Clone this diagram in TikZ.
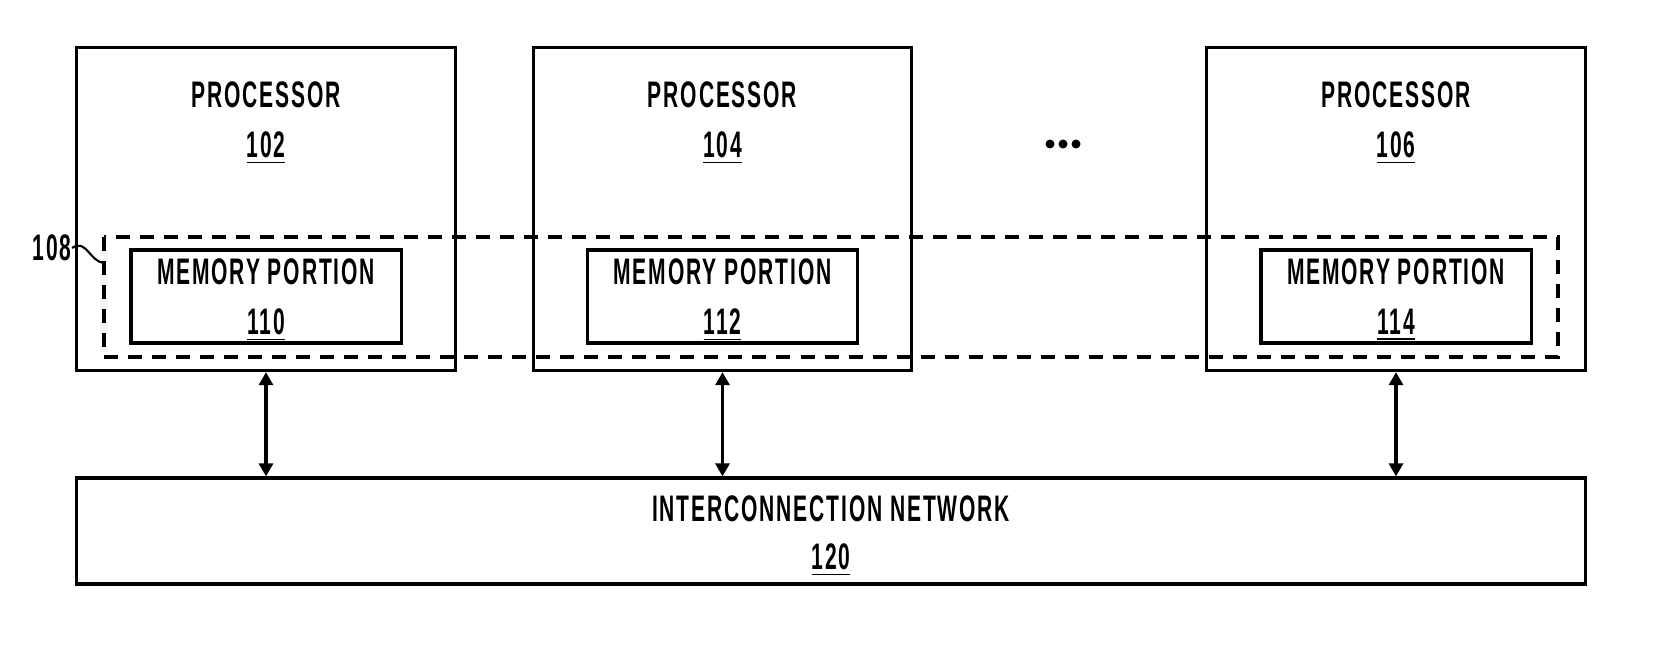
\documentclass[tikz,border=0pt]{standalone}
\usepackage{fontspec}
\setmainfont{Liberation Sans}[FakeStretch=0.57,LetterSpace=5]
\usetikzlibrary{arrows.meta}
\tikzstyle{procbox} = [draw=black, line width=0.9pt, rectangle,
    minimum width=3.78cm, minimum height=3.23cm]
\tikzstyle{membox} = [draw=black, line width=0.9pt, rectangle,
    minimum width=2.7cm, minimum height=0.93cm]
\tikzstyle{netbox} = [draw=black, line width=0.9pt, rectangle,
    minimum width=15.08cm, minimum height=1.06cm]
\tikzstyle{txt} = [inner sep=0pt, font=\fontsize{10.5}{12}\bfseries\selectfont]
\tikzstyle{link} = [line width=0.9pt, {Triangle[length=0.13cm,width=0.14cm]}-{Triangle[length=0.13cm,width=0.14cm]}]

\begin{document}
\begin{tikzpicture}[x=0.01cm,y=-0.01cm]
\useasboundingbox (0,0) rectangle (1655,661);

% processors
\node[procbox](proc102) at (266,209){};
\node[procbox](proc104) at (722.5,209){};
\node[procbox](proc106) at (1396,209){};
\node[txt] at (266,95){PROCESSOR};
\node[txt] at (266,148){\underline{102}};
\node[txt] at (722.5,95){PROCESSOR};
\node[txt] at (722.5,148){\underline{104}};
\node[txt] at (1396,95){PROCESSOR};
\node[txt] at (1396,148){\underline{106}};

% dots
\foreach \x in {1050,1063,1076}
  \fill (\x,144) circle(4.5);

% shared memory
\draw[line width=0.9pt, dash pattern=on 0.14cm off 0.1cm] (104,237) rectangle (1558,357);
\coordinate (shmem) at (104,263);
\node[membox](mem110) at (266,296.5){};
\node[membox](mem112) at (722.5,296.5){};
\node[membox](mem114) at (1396,296.5){};
\node[txt] at (266,272){MEMORY PORTION};
\node[txt] at (266,325){\underline{110}};
\node[txt] at (722.5,272){MEMORY PORTION};
\node[txt] at (722.5,325){\underline{112}};
\node[txt] at (1396,272){MEMORY PORTION};
\node[txt] at (1396,325){\underline{114}};

\node[txt](lbl108) at (52,248){108};
\draw[line width=0.6pt] (lbl108.east) .. controls (86,238) and (90,262) .. (shmem);

% network
\node[netbox](net) at (831,531){};
\node[txt] at (831,509){INTERCONNECTION NETWORK};
\node[txt] at (831,560){\underline{120}};

\draw[link] (proc102.south) -- (proc102.south |- net.north);
\draw[link] (proc104.south) -- (proc104.south |- net.north);
\draw[link] (proc106.south) -- (proc106.south |- net.north);

\end{tikzpicture}
\end{document}
